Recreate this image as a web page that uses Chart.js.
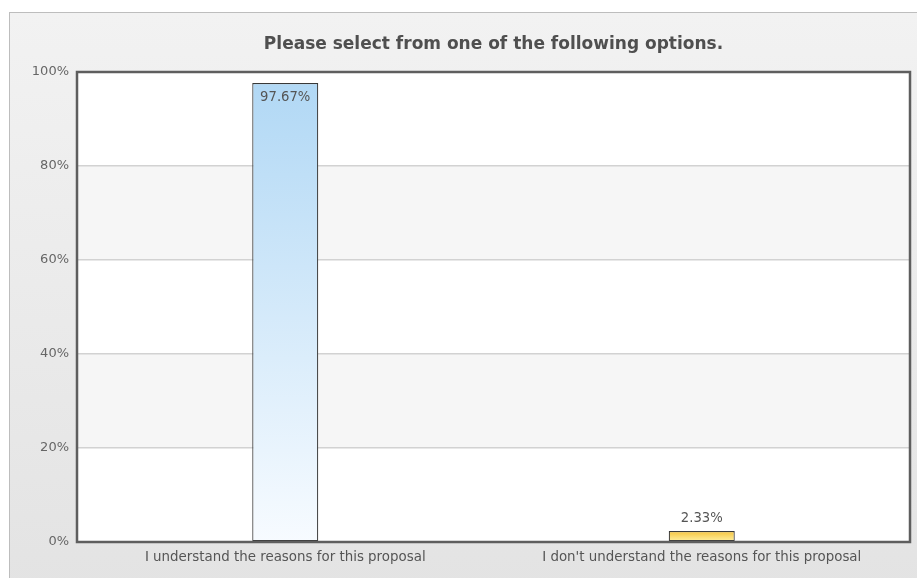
<!DOCTYPE html>
<html>
<head>
<meta charset="utf-8">
<style>
  html, body { margin: 0; padding: 0; width: 917px; height: 578px; overflow: hidden; background: #fff; }
  #panel {
    position: absolute; left: 9px; top: 12px; width: 920px; height: 580px;
    border: 1px solid #bdbdbd;
    background: linear-gradient(to bottom, #f2f2f2 0%, #e3e3e3 100%);
  }
  #wrap { position: absolute; left: 0; top: 0; width: 917px; height: 578px; }
</style>
<script src="https://cdn.jsdelivr.net/npm/chart.js@4/dist/chart.umd.min.js"></script>
</head>
<body>
<div id="panel"></div>
<div id="wrap"><canvas id="chart" width="917" height="578"></canvas></div>
<script>
'use strict';

var titleText = 'Please select from one of the following options.';
var categories = [
    'I understand the reasons for this proposal',
    'I don\'t understand the reasons for this proposal'
];
var values = [97.67, 2.33];
var yTicks = [0, 20, 40, 60, 80, 100];

// top / bottom colours of each bar's gradient
var barTop = ['#b1d8f5', '#f5c33b'];
var barBottom = ['#f7fbff', '#fff2a6'];

var bandsPlugin = {
    id: 'bands',
    beforeDraw: function(chart) {
        var ctx = chart.ctx,
            area = chart.chartArea,
            y = chart.scales.y;

        ctx.save();
        for (var i = 0; i < yTicks.length - 1; i++) {
            var top = y.getPixelForValue(yTicks[i + 1]),
                bottom = y.getPixelForValue(yTicks[i]);
            ctx.fillStyle = (yTicks.length - 2 - i) % 2 === 0 ? '#ffffff' : '#f6f6f6';
            ctx.fillRect(area.left, top, area.right - area.left, bottom - top);
        }
        ctx.restore();
    },
    afterDraw: function(chart) {
        var ctx = chart.ctx,
            area = chart.chartArea;

        ctx.save();
        ctx.strokeStyle = '#5e5e5e';
        ctx.lineWidth = 2.5;
        ctx.strokeRect(area.left, area.top, area.right - area.left, area.bottom - area.top);
        ctx.restore();
    }
};

var labelsPlugin = {
    id: 'valueLabels',
    afterDatasetsDraw: function(chart) {
        var ctx = chart.ctx,
            meta = chart.getDatasetMeta(0);

        ctx.save();
        ctx.font = '13.2px "DejaVu Sans", Verdana, sans-serif';
        ctx.fillStyle = '#555555';
        ctx.textAlign = 'center';
        ctx.textBaseline = 'middle';
        meta.data.forEach(function(bar, i) {
            var text = values[i].toFixed(2) + '%';
            if (values[i] > 50) {
                ctx.fillText(text, bar.x, bar.y + 15);
            } else {
                ctx.fillText(text, bar.x, bar.y - 12);
            }
        });
        ctx.restore();
    }
};

function barGradient(c) {
    var chart = c.chart,
        i = c.dataIndex;
    if (!chart.chartArea || !chart.scales.y) return barTop[i];
    var top = chart.scales.y.getPixelForValue(values[i]),
        bottom = chart.scales.y.getPixelForValue(0),
        g = chart.ctx.createLinearGradient(0, top, 0, bottom);
    g.addColorStop(0, barTop[i]);
    g.addColorStop(1, barBottom[i]);
    return g;
}

new Chart(document.getElementById('chart'), {
    type: 'bar',
    data: {
        labels: categories,
        datasets: [{
            data: values,
            backgroundColor: barGradient,
            borderColor: '#383838',
            borderWidth: 1.2,
            borderSkipped: false,
            categoryPercentage: 1,
            barPercentage: 0.1585
        }]
    },
    plugins: [bandsPlugin, labelsPlugin],
    options: {
        responsive: false,
        animation: false,
        layout: { padding: { left: 9, right: 7, top: 0, bottom: 0 } },
        plugins: {
            legend: { display: false },
            tooltip: { enabled: false },
            title: {
                display: true,
                fullSize: false,
                text: titleText,
                color: '#4f4f4f',
                font: { family: '"DejaVu Sans", Verdana, sans-serif', size: 17, weight: 'bold', lineHeight: 1.2 },
                padding: { top: 34, bottom: 17.6 }
            }
        },
        scales: {
            x: {
                grid: { display: false, drawTicks: false },
                border: { display: false },
                ticks: {
                    color: '#555555',
                    font: { family: '"DejaVu Sans", Verdana, sans-serif', size: 13.4 },
                    padding: 7,
                    maxRotation: 0
                },
                afterFit: function(s) { s.height = 36; }
            },
            y: {
                min: 0,
                max: 100,
                grid: { color: '#d2d2d2', lineWidth: 1.5, drawTicks: false },
                border: { display: false },
                ticks: {
                    stepSize: 20,
                    color: '#666666',
                    font: { family: '"DejaVu Sans", Verdana, sans-serif', size: 13 },
                    padding: 8,
                    callback: function(v) { return v + '%'; }
                },
                afterFit: function(s) { s.width = 68; }
            }
        }
    }
});
</script>
</body>
</html>
